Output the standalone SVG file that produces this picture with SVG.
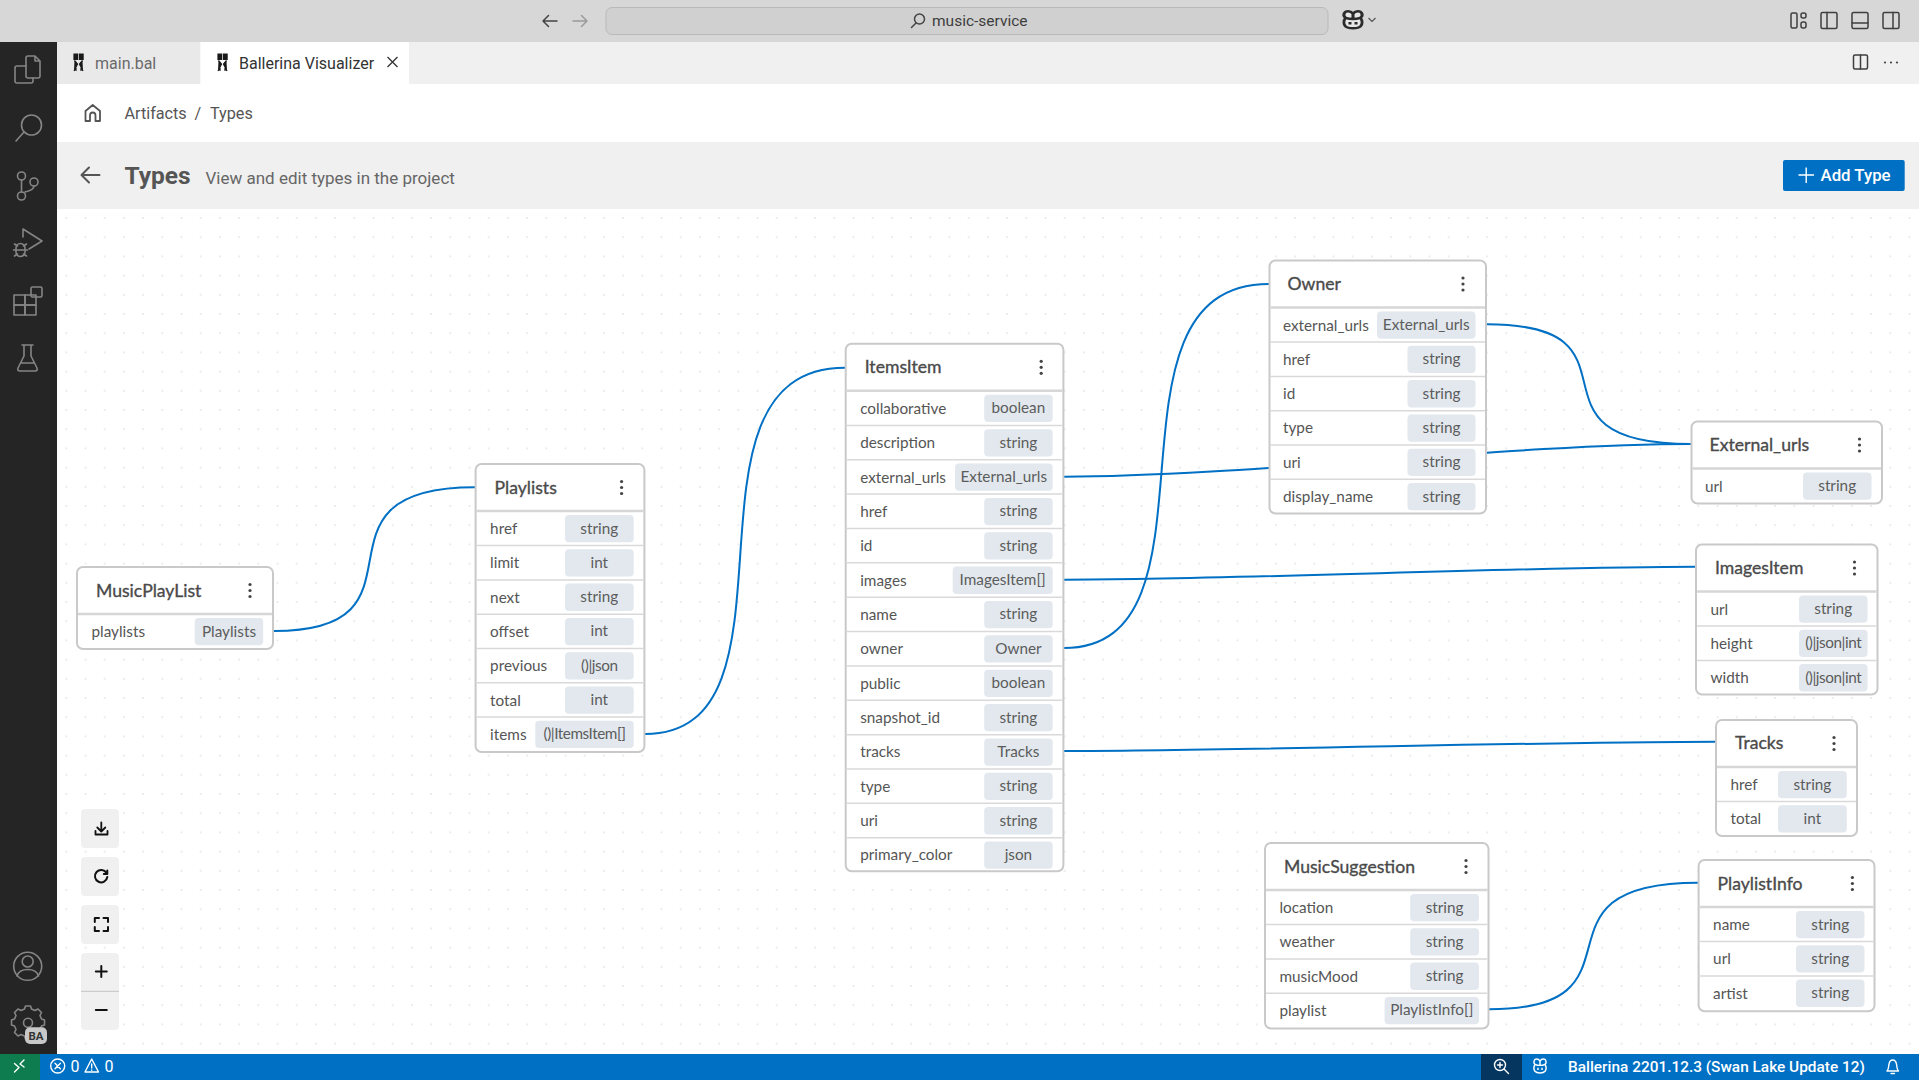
<svg xmlns="http://www.w3.org/2000/svg" width="1919" height="1080" viewBox="0 0 1919 1080">
<style>
.ui{font-family:Roboto,"Liberation Sans",sans-serif}
.n text{font-family:Lato,"Noto Sans",sans-serif}
.box{fill:#fff;stroke:#c9c9c9;stroke-width:2}
.h{stroke:#d6d6d6;stroke-width:2.4}
.d{stroke:#d9d9d9;stroke-width:1.5}
.p{fill:#e2e8ee}
.ti{font-size:17.6px;fill:#4a4a4a;stroke:#4a4a4a;stroke-width:.35px}
.l{font-size:15.3px;fill:#555}
.t{font-size:15.3px;fill:#5c5c5c;text-anchor:middle}
.u{letter-spacing:-.45px}
.dot{fill:#444}
.c{fill:none;stroke:#0070c4;stroke-width:2}
.s{fill:none;stroke:#858585;stroke-width:1.6;stroke-linecap:round;stroke-linejoin:round}
.k{fill:none;stroke:#3f3f3f;stroke-width:1.5;stroke-linecap:round;stroke-linejoin:round}
.b{fill:none;stroke:#111;stroke-width:2;stroke-linecap:round;stroke-linejoin:round}
.w{fill:none;stroke:#fff;stroke-width:1.4;stroke-linecap:round;stroke-linejoin:round}
.btn{fill:#f0f0f0}
</style>
<defs>
<pattern id="grid" patternUnits="userSpaceOnUse" x="56.7" y="208.4" width="19.2" height="19.2"><circle cx="9.6" cy="9.6" r="0.9" fill="#e0e4ea"/></pattern>
<g id="menu"><circle cx="0" cy="-6" r="1.6"/><circle cx="0" cy="0" r="1.6"/><circle cx="0" cy="6" r="1.6"/></g>
<path id="bal" d="M-4.5-8.5h3.6v5.5h-3.6zM1-8.5h3.6v5.5H1zM-4-2 -1 1.5-4.5 8.5M4-2 1 1.5 4.5 8.5M-2.5 1.5v7M2.5 1.5v7" fill="#1a1a1a" stroke="#1a1a1a" stroke-width="1.2"/>
<g id="pig"><path d="M-7 -3.5C-10-7-8-11-4.5-11-2-11-.8-9.5 0-8.5 .8-9.5 2-11 4.5-11 8-11 10-7 7-3.5 9 0 8.5 4 7 6 4.5 9 -4.5 9 -7 6-8.5 4-9 0-7-3.5z"/><path d="M-7-3.500Q0 -1 7-3.500M0-8.500V-2.500"/><path d="M-2.800 1v3M2.800 1v3"/></g>
</defs>

<rect width="1919" height="1080" fill="#fff"/>
<rect width="1919" height="42" fill="#d7d7d7"/>
<rect x="606" y="7.500" width="722" height="27" rx="6" fill="#d0d0d0" stroke="#b9b9b9"/>
<g fill="none" stroke="#444" stroke-width="1.500" stroke-linecap="round" stroke-linejoin="round">
<path d="M557 21H543M548.500 15.500 543 21l5.500 5.500"/>
<path stroke="#9a9a9a" d="M573 21H587M581.500 15.500 587 21l-5.500 5.500"/>
<circle cx="919.500" cy="19" r="5"/><path d="M916 23 911.500 27.500"/>
</g>
<text class="ui" x="932" y="26" font-size="15.500" fill="#3d3d3d">music-service</text>
<use href="#pig" transform="translate(1353 21) scale(1.080 .88)" fill="#e8e8e8" stroke="#2b2b2b" stroke-width="2.800"/>
<path d="M1368.500 18l3.500 3.500 3.500-3.500" fill="none" stroke="#555" stroke-width="1.200"/>
<g class="k">
<rect x="1791" y="13" width="6" height="15" rx="1.500"/><rect x="1801" y="13" width="5" height="5" rx="2"/><rect x="1801" y="22" width="5" height="6" rx="2"/>
<rect x="1821" y="12.500" width="16" height="16" rx="1.500"/><path d="M1827 12.500v16"/>
<rect x="1852" y="12.500" width="16" height="16" rx="1.500"/><path d="M1852 23h16"/>
<rect x="1883" y="12.500" width="16" height="16" rx="1.500"/><path d="M1893 12.500v16"/>
</g>

<rect x="57" y="42" width="1862" height="42" fill="#f0f0f0"/>
<rect x="57" y="42" width="143.400" height="42" fill="#e9e9e9"/>
<rect x="200.400" y="42" width="208.600" height="42" fill="#fff"/>
<use href="#bal" transform="translate(78.500 62.500)"/>
<text class="ui" x="95" y="68.500" font-size="16" fill="#6a6a6a">main.bal</text>
<use href="#bal" transform="translate(222.500 62.500)"/>
<text class="ui" x="239" y="68.500" font-size="16" fill="#333">Ballerina Visualizer</text>
<path d="M387.500 57 397.500 67M397.500 57 387.500 67" fill="none" stroke="#333" stroke-width="1.300"/>
<g class="k"><rect x="1853.500" y="55" width="14" height="14" rx="1.500"/><path d="M1860.500 55v14"/></g>
<g fill="#444"><circle cx="1885" cy="62.500" r="1.100"/><circle cx="1891" cy="62.500" r="1.100"/><circle cx="1897" cy="62.500" r="1.100"/></g>

<rect x="57" y="84" width="1862" height="58" fill="#fff"/>
<path d="M85.500 121V111L92.700 105 100 111V121H95.500V115.500Q95.500 112.500 92.700 112.500 90 112.500 90 115.500V121Z" fill="none" stroke="#555" stroke-width="1.800" stroke-linejoin="round"/>
<text class="ui" x="124.500" y="119" font-size="16.200" fill="#555">Artifacts</text>
<text class="ui" x="194.500" y="119" font-size="16.200" fill="#555">/</text>
<text class="ui" x="210" y="119" font-size="16.200" fill="#555">Types</text>

<rect x="57" y="142" width="1862" height="67" fill="#f0f0f0"/>
<path d="M99.500 175H82M89 167.500 81.500 175 89 182.500" fill="none" stroke="#555" stroke-width="2" stroke-linecap="round" stroke-linejoin="round"/>
<text class="ui" x="124.500" y="184" font-size="24.500" font-weight="700" fill="#555">Types</text>
<text class="ui" x="205.500" y="183.500" font-size="17" fill="#666">View and edit types in the project</text>
<rect x="1783" y="160" width="121.700" height="31" rx="2" fill="#0070c4"/>
<path d="M1798.500 175h15.500M1806.200 167.500v15.500" stroke="#fff" stroke-width="1.400" fill="none"/>
<text class="ui" x="1820.500" y="181" font-size="16.800" font-weight="500" fill="#fff">Add Type</text>

<rect x="57" y="209" width="1862" height="845" fill="url(#grid)"/>

<g id="sidebar">
<rect x="0" y="42" width="57" height="1012" fill="#252525"/>
<g class="s">
<path d="M28 56H35L40 61V76Q40 78 38 78H28Q26 78 26 76V58Q26 56 28 56ZM35 56V61H40"/><path d="M26 66H17Q15 66 15 68V81Q15 83 17 83H31Q33 83 33 81V78"/>
<circle cx="31.500" cy="125" r="10"/><path d="M24 132 16 141"/>
<circle cx="21.500" cy="176" r="4"/><circle cx="21.500" cy="196" r="4"/><circle cx="34" cy="182" r="4"/><path d="M21.500 180V192M34 186Q34 190 25 192"/>
<path d="M23 237V229L42 241 29 249"/><path d="M16 248a4.500 4.500 0 0 1 9 0v4a4.500 4.500 0 0 1-9 0zM13.500 250h14M14.500 244l3 2M26.500 244l-3 2M14.500 256l3-2M26.500 256l-3-2"/>
<rect x="14" y="295" width="11" height="10"/><rect x="25" y="295" width="11" height="10"/><rect x="14" y="305" width="11" height="10"/><rect x="25" y="305" width="11" height="10"/><rect x="31" y="287" width="11" height="10" rx="1.500"/>
<path d="M22 345H33M24 345V356L18 368Q17 371 20 371H35Q38 371 37 368L31 356V345M20.500 363H34.500"/>
<circle cx="27.700" cy="966.300" r="14"/><circle cx="27.700" cy="961.500" r="5.500"/><path d="M17 976Q19 969.500 27.700 969.500 36.500 969.500 38.500 976"/>
<path d="M24.500 1010l1-3h5l1 3 3.500 1.500 3-1.500 3.500 3.500-1.500 3 1.500 3.500 3 1v5l-3 1-1.500 3.500 1.500 3-3.500 3.500-3-1.500-3.500 1.500-1 3h-5l-1-3-3.500-1.500-3 1.500-3.500-3.500 1.500-3-1.500-3.500-3-1v-5l3-1 1.500-3.500-1.500-3 3.500-3.500 3 1.500z" transform="translate(0,-1)"/><circle cx="28" cy="1022.700" r="4.500"/>
</g>
<rect x="25" y="1027.300" width="22" height="16.700" rx="5" fill="#c8c8c8"/>
<text class="ui" x="36" y="1040" font-size="11.500" font-weight="700" fill="#333" text-anchor="middle">BA</text>
</g>

<g id="connectors" class="c">
<path d="M274 631C443 631 294 487.300 475 487.300"/>
<path d="M645 734C814 734 664 367.700 845 367.700"/>
<path d="M1064 476.700C1239 476.700 1516 444 1691 444"/>
<path d="M1064 579.700C1239 579.700 1521 566.700 1696 566.700"/>
<path d="M1064 648C1233 648 1088 284 1269 284"/>
<path d="M1064 751C1239 751 1541 741.700 1716 741.700"/>
<path d="M1487 324.300C1656 324.300 1510 444 1691 444"/>
<path d="M1489 1009.300C1658 1009.300 1517 882.700 1698 882.700"/>
</g>

<g id="MusicPlayList" class="n" transform="translate(77 567)">
<rect class="box" width="196" height="82" rx="6"/><line class="h" x1="1" x2="195" y1="47" y2="47"/>
<text class="ti" x="19" y="29.500">MusicPlayList</text><use href="#menu" class="dot" transform="translate(173 23.500)"/>
<text class="l" x="14.500" y="70">playlists</text><rect class="p" x="117.700" y="51" width="68.500" height="27.300" rx="4"/><text class="t" x="152" y="69.500">Playlists</text>
</g>

<g id="Playlists" class="n" transform="translate(475.600 464)">
<rect class="box" width="168.800" height="288" rx="6"/><line class="h" x1="1" x2="167.800" y1="47" y2="47"/>
<text class="ti" x="19" y="29.500">Playlists</text><use href="#menu" class="dot" transform="translate(146 23.500)"/>
<g><text class="l" x="14.500" y="70">href</text><rect class="p" x="89.400" y="51" width="68.700" height="27.300" rx="4"/><text class="t" x="123.700" y="69.500">string</text><line class="d" x1="1" x2="167.800" y1="81.600" y2="81.600"/></g>
<g transform="translate(0 34.300)"><text class="l" x="14.500" y="70">limit</text><rect class="p" x="89.400" y="51" width="68.700" height="27.300" rx="4"/><text class="t" x="123.700" y="69.500">int</text><line class="d" x1="1" x2="167.800" y1="81.600" y2="81.600"/></g>
<g transform="translate(0 68.600)"><text class="l" x="14.500" y="70">next</text><rect class="p" x="89.400" y="51" width="68.700" height="27.300" rx="4"/><text class="t" x="123.700" y="69.500">string</text><line class="d" x1="1" x2="167.800" y1="81.600" y2="81.600"/></g>
<g transform="translate(0 102.900)"><text class="l" x="14.500" y="70">offset</text><rect class="p" x="89.400" y="51" width="68.700" height="27.300" rx="4"/><text class="t" x="123.700" y="69.500">int</text><line class="d" x1="1" x2="167.800" y1="81.600" y2="81.600"/></g>
<g transform="translate(0 137.200)"><text class="l" x="14.500" y="70">previous</text><rect class="p" x="89.400" y="51" width="68.700" height="27.300" rx="4"/><text class="t u" x="123.700" y="69.500">()|json</text><line class="d" x1="1" x2="167.800" y1="81.600" y2="81.600"/></g>
<g transform="translate(0 171.500)"><text class="l" x="14.500" y="70">total</text><rect class="p" x="89.400" y="51" width="68.700" height="27.300" rx="4"/><text class="t" x="123.700" y="69.500">int</text><line class="d" x1="1" x2="167.800" y1="81.600" y2="81.600"/></g>
<g transform="translate(0 205.800)"><text class="l" x="14.500" y="70">items</text><rect class="p" x="59.700" y="51" width="98.400" height="27.300" rx="4"/><text class="t u" x="108.900" y="69.500">()|ItemsItem[]</text></g>
</g>

<g id="ItemsItem" class="n" transform="translate(845.700 343.800)">
<rect class="box" width="217.700" height="527.500" rx="6"/><line class="h" x1="1" x2="216.700" y1="47" y2="47"/>
<text class="ti" x="19" y="29.500">ItemsItem</text><use href="#menu" class="dot" transform="translate(195.500 23.500)"/>
<g><text class="l" x="14.500" y="70">collaborative</text><rect class="p" x="138.500" y="51" width="68.500" height="27.300" rx="4"/><text class="t" x="172.700" y="69.500">boolean</text><line class="d" x1="1" x2="216.700" y1="81.600" y2="81.600"/></g>
<g transform="translate(0 34.360)"><text class="l" x="14.500" y="70">description</text><rect class="p" x="138.500" y="51" width="68.500" height="27.300" rx="4"/><text class="t" x="172.700" y="69.500">string</text><line class="d" x1="1" x2="216.700" y1="81.600" y2="81.600"/></g>
<g transform="translate(0 68.720)"><text class="l" x="14.500" y="70">external_urls</text><rect class="p" x="109.300" y="51" width="97.700" height="27.300" rx="4"/><text class="t" x="158.100" y="69.500">External_urls</text><line class="d" x1="1" x2="216.700" y1="81.600" y2="81.600"/></g>
<g transform="translate(0 103.080)"><text class="l" x="14.500" y="70">href</text><rect class="p" x="138.500" y="51" width="68.500" height="27.300" rx="4"/><text class="t" x="172.700" y="69.500">string</text><line class="d" x1="1" x2="216.700" y1="81.600" y2="81.600"/></g>
<g transform="translate(0 137.440)"><text class="l" x="14.500" y="70">id</text><rect class="p" x="138.500" y="51" width="68.500" height="27.300" rx="4"/><text class="t" x="172.700" y="69.500">string</text><line class="d" x1="1" x2="216.700" y1="81.600" y2="81.600"/></g>
<g transform="translate(0 171.800)"><text class="l" x="14.500" y="70">images</text><rect class="p" x="107" y="51" width="100" height="27.300" rx="4"/><text class="t" x="157" y="69.500">ImagesItem[]</text><line class="d" x1="1" x2="216.700" y1="81.600" y2="81.600"/></g>
<g transform="translate(0 206.160)"><text class="l" x="14.500" y="70">name</text><rect class="p" x="138.500" y="51" width="68.500" height="27.300" rx="4"/><text class="t" x="172.700" y="69.500">string</text><line class="d" x1="1" x2="216.700" y1="81.600" y2="81.600"/></g>
<g transform="translate(0 240.520)"><text class="l" x="14.500" y="70">owner</text><rect class="p" x="138.500" y="51" width="68.500" height="27.300" rx="4"/><text class="t" x="172.700" y="69.500">Owner</text><line class="d" x1="1" x2="216.700" y1="81.600" y2="81.600"/></g>
<g transform="translate(0 274.880)"><text class="l" x="14.500" y="70">public</text><rect class="p" x="138.500" y="51" width="68.500" height="27.300" rx="4"/><text class="t" x="172.700" y="69.500">boolean</text><line class="d" x1="1" x2="216.700" y1="81.600" y2="81.600"/></g>
<g transform="translate(0 309.240)"><text class="l" x="14.500" y="70">snapshot_id</text><rect class="p" x="138.500" y="51" width="68.500" height="27.300" rx="4"/><text class="t" x="172.700" y="69.500">string</text><line class="d" x1="1" x2="216.700" y1="81.600" y2="81.600"/></g>
<g transform="translate(0 343.600)"><text class="l" x="14.500" y="70">tracks</text><rect class="p" x="138.500" y="51" width="68.500" height="27.300" rx="4"/><text class="t" x="172.700" y="69.500">Tracks</text><line class="d" x1="1" x2="216.700" y1="81.600" y2="81.600"/></g>
<g transform="translate(0 377.960)"><text class="l" x="14.500" y="70">type</text><rect class="p" x="138.500" y="51" width="68.500" height="27.300" rx="4"/><text class="t" x="172.700" y="69.500">string</text><line class="d" x1="1" x2="216.700" y1="81.600" y2="81.600"/></g>
<g transform="translate(0 412.320)"><text class="l" x="14.500" y="70">uri</text><rect class="p" x="138.500" y="51" width="68.500" height="27.300" rx="4"/><text class="t" x="172.700" y="69.500">string</text><line class="d" x1="1" x2="216.700" y1="81.600" y2="81.600"/></g>
<g transform="translate(0 446.680)"><text class="l" x="14.500" y="70">primary_color</text><rect class="p" x="138.500" y="51" width="68.500" height="27.300" rx="4"/><text class="t" x="172.700" y="69.500">json</text></g>
</g>

<g id="Owner" class="n" transform="translate(1269.500 260.500)">
<rect class="box" width="216.500" height="253" rx="6"/><line class="h" x1="1" x2="215.500" y1="47" y2="47"/>
<text class="ti" x="18" y="29.500">Owner</text><use href="#menu" class="dot" transform="translate(193.500 23.500)"/>
<g><text class="l" x="13.500" y="70">external_urls</text><rect class="p" x="107.500" y="51" width="98.500" height="27.300" rx="4"/><text class="t" x="156.700" y="69.500">External_urls</text><line class="d" x1="1" x2="215.500" y1="81.600" y2="81.600"/></g>
<g transform="translate(0 34.300)"><text class="l" x="13.500" y="70">href</text><rect class="p" x="138" y="51" width="68" height="27.300" rx="4"/><text class="t" x="172" y="69.500">string</text><line class="d" x1="1" x2="215.500" y1="81.600" y2="81.600"/></g>
<g transform="translate(0 68.600)"><text class="l" x="13.500" y="70">id</text><rect class="p" x="138" y="51" width="68" height="27.300" rx="4"/><text class="t" x="172" y="69.500">string</text><line class="d" x1="1" x2="215.500" y1="81.600" y2="81.600"/></g>
<g transform="translate(0 102.900)"><text class="l" x="13.500" y="70">type</text><rect class="p" x="138" y="51" width="68" height="27.300" rx="4"/><text class="t" x="172" y="69.500">string</text><line class="d" x1="1" x2="215.500" y1="81.600" y2="81.600"/></g>
<g transform="translate(0 137.200)"><text class="l" x="13.500" y="70">uri</text><rect class="p" x="138" y="51" width="68" height="27.300" rx="4"/><text class="t" x="172" y="69.500">string</text><line class="d" x1="1" x2="215.500" y1="81.600" y2="81.600"/></g>
<g transform="translate(0 171.500)"><text class="l" x="13.500" y="70">display_name</text><rect class="p" x="138" y="51" width="68" height="27.300" rx="4"/><text class="t" x="172" y="69.500">string</text></g>
</g>

<g id="External_urls" class="n" transform="translate(1691.500 421.500)">
<rect class="box" width="190.500" height="82" rx="6"/><line class="h" x1="1" x2="189.500" y1="47" y2="47"/>
<text class="ti" x="18" y="29">External_urls</text><use href="#menu" class="dot" transform="translate(168 23.500)"/>
<text class="l" x="13.500" y="70">url</text><rect class="p" x="111.500" y="51" width="68.500" height="27.300" rx="4"/><text class="t" x="145.700" y="69.500">string</text>
</g>

<g id="ImagesItem" class="n" transform="translate(1696 544.500)">
<rect class="box" width="181.500" height="150" rx="6"/><line class="h" x1="1" x2="180.500" y1="47" y2="47"/>
<text class="ti" x="19" y="29.500">ImagesItem</text><use href="#menu" class="dot" transform="translate(158.500 23.500)"/>
<g><text class="l" x="14.500" y="70">url</text><rect class="p" x="103" y="51" width="68.500" height="27.300" rx="4"/><text class="t" x="137.200" y="69.500">string</text><line class="d" x1="1" x2="180.500" y1="81.600" y2="81.600"/></g>
<g transform="translate(0 34.300)"><text class="l" x="14.500" y="70">height</text><rect class="p" x="103" y="51" width="68.500" height="27.300" rx="4"/><text class="t u" x="137.200" y="69.500">()|json|int</text><line class="d" x1="1" x2="180.500" y1="81.600" y2="81.600"/></g>
<g transform="translate(0 68.600)"><text class="l" x="14.500" y="70">width</text><rect class="p" x="103" y="51" width="68.500" height="27.300" rx="4"/><text class="t u" x="137.200" y="69.500">()|json|int</text></g>
</g>

<g id="Tracks" class="n" transform="translate(1716 720)">
<rect class="box" width="141" height="116" rx="6"/><line class="h" x1="1" x2="140" y1="47" y2="47"/>
<text class="ti" x="19" y="29">Tracks</text><use href="#menu" class="dot" transform="translate(118 23.500)"/>
<g><text class="l" x="14.500" y="70">href</text><rect class="p" x="62" y="51" width="68.800" height="27.300" rx="4"/><text class="t" x="96.400" y="69.500">string</text><line class="d" x1="1" x2="140" y1="81.600" y2="81.600"/></g>
<g transform="translate(0 34.300)"><text class="l" x="14.500" y="70">total</text><rect class="p" x="62" y="51" width="68.800" height="27.300" rx="4"/><text class="t" x="96.400" y="69.500">int</text></g>
</g>

<g id="MusicSuggestion" class="n" transform="translate(1265 843)">
<rect class="box" width="223.500" height="185.500" rx="6"/><line class="h" x1="1" x2="222.500" y1="47" y2="47"/>
<text class="ti" x="19" y="29.500">MusicSuggestion</text><use href="#menu" class="dot" transform="translate(201 23.500)"/>
<g><text class="l" x="14.500" y="70">location</text><rect class="p" x="145.200" y="51" width="68.800" height="27.300" rx="4"/><text class="t" x="179.600" y="69.500">string</text><line class="d" x1="1" x2="222.500" y1="81.600" y2="81.600"/></g>
<g transform="translate(0 34.300)"><text class="l" x="14.500" y="70">weather</text><rect class="p" x="145.200" y="51" width="68.800" height="27.300" rx="4"/><text class="t" x="179.600" y="69.500">string</text><line class="d" x1="1" x2="222.500" y1="81.600" y2="81.600"/></g>
<g transform="translate(0 68.600)"><text class="l" x="14.500" y="70">musicMood</text><rect class="p" x="145.200" y="51" width="68.800" height="27.300" rx="4"/><text class="t" x="179.600" y="69.500">string</text><line class="d" x1="1" x2="222.500" y1="81.600" y2="81.600"/></g>
<g transform="translate(0 102.900)"><text class="l" x="14.500" y="70">playlist</text><rect class="p" x="119.600" y="51" width="94.400" height="27.300" rx="4"/><text class="t" x="166.800" y="69.500">PlaylistInfo[]</text></g>
</g>

<g id="PlaylistInfo" class="n" transform="translate(1698.600 860)">
<rect class="box" width="175.900" height="151.300" rx="6"/><line class="h" x1="1" x2="174.900" y1="47" y2="47"/>
<text class="ti" x="19" y="29.500">PlaylistInfo</text><use href="#menu" class="dot" transform="translate(153.800 23.500)"/>
<g><text class="l" x="14.500" y="70">name</text><rect class="p" x="97.400" y="51" width="68.500" height="27.300" rx="4"/><text class="t" x="131.600" y="69.500">string</text><line class="d" x1="1" x2="174.900" y1="81.600" y2="81.600"/></g>
<g transform="translate(0 34.300)"><text class="l" x="14.500" y="70">url</text><rect class="p" x="97.400" y="51" width="68.500" height="27.300" rx="4"/><text class="t" x="131.600" y="69.500">string</text><line class="d" x1="1" x2="174.900" y1="81.600" y2="81.600"/></g>
<g transform="translate(0 68.600)"><text class="l" x="14.500" y="70">artist</text><rect class="p" x="97.400" y="51" width="68.500" height="27.300" rx="4"/><text class="t" x="131.600" y="69.500">string</text></g>
</g>

<g id="controls">
<rect class="btn" x="81" y="809" width="38" height="39" rx="4"/>
<rect class="btn" x="81" y="857" width="38" height="39" rx="4"/>
<rect class="btn" x="81" y="905" width="38" height="39" rx="4"/>
<rect class="btn" x="81" y="953" width="38" height="77" rx="4"/>
<line x1="81" x2="119" y1="991.300" y2="991.300" stroke="#c4c4c4" stroke-width="1"/>
<g class="b">
<path d="M101.300 822.500V831M97.300 827.500 101.300 831.500 105.300 827.500" stroke-width="1.800"/><path d="M95.500 831V834.500H107.500V831" stroke-width="1.800"/>
<path d="M106.500 873A6.200 6.200 0 1 0 107.300 877M107.300 870.500V874H103.800"/>
<path d="M94.800 922V918H99M103.500 918H108V922M108 927V931H103.500M99 931H94.800V927"/>
<path d="M101.300 966V977M95.800 971.500H106.800"/>
<path d="M95.800 1010H106.800"/>
</g>
</g>

<g id="statusbar">
<rect x="0" y="1054" width="1919" height="26" fill="#0070c4"/>
<rect x="0" y="1054" width="40" height="26" fill="#0e7c4e"/>
<path class="w" d="M14.500 1063.500 19 1067.500 14.500 1072M24 1060 20 1064 24 1067"/>
<g class="w"><circle cx="57.700" cy="1066" r="7"/><path d="M55 1063.300 60.400 1068.700M60.400 1063.300 55 1068.700"/><path d="M91.700 1059 98.500 1072H85Z"/><path d="M91.700 1064V1068M91.700 1070v.3"/></g>
<text class="ui" x="70.500" y="1072" font-size="16" fill="#fff">0</text>
<text class="ui" x="104.500" y="1072" font-size="16" fill="#fff">0</text>
<rect x="1481" y="1054" width="41" height="26" fill="#04365f"/>
<g class="w"><circle cx="1500" cy="1065" r="5.500"/><path d="M1504 1069 1508.500 1073.500M1500 1062.500V1067.500M1497.500 1065H1502.500"/></g>
<use href="#pig" transform="translate(1540 1067) scale(.72)" fill="none" stroke="#fff" stroke-width="2"/>
<text class="ui" x="1568" y="1072" font-size="15.400" font-weight="500" fill="#fff">Ballerina 2201.12.3 (Swan Lake Update 12)</text>
<path class="w" d="M1887 1071H1898.500C1896.500 1069 1897 1066 1896.500 1064 1896 1061.500 1894.500 1060 1892.700 1060 1891 1060 1889.500 1061.500 1889 1064 1888.500 1066 1889 1069 1887 1071ZM1891 1073.500H1894.500"/>
</g>
</svg>
